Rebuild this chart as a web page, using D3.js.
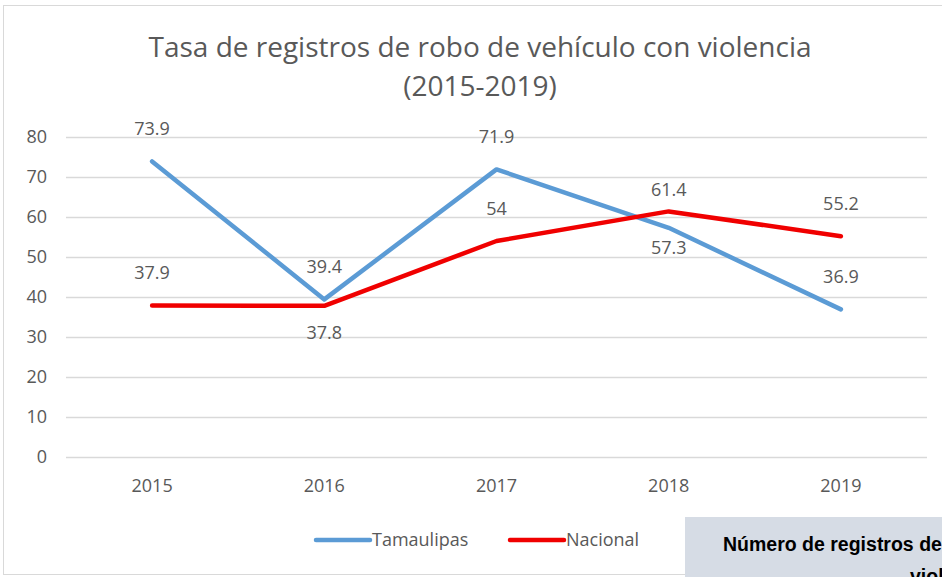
<!DOCTYPE html>
<html>
<head>
<meta charset="utf-8">
<script src="https://cdn.jsdelivr.net/npm/d3@7"></script>
<style>
  html, body { margin: 0; padding: 0; background: #fff; overflow: hidden; }
  svg { display: block; }
</style>
</head>
<body>
<div id="chart"></div>
<script>
// données
const years = ["2015", "2016", "2017", "2018", "2019"];
const tamaulipas = [73.9, 39.4, 71.9, 57.3, 36.9];
const nacional = [37.9, 37.8, 54, 61.4, 55.2];
const yTicks = [0, 10, 20, 30, 40, 50, 60, 70, 80];
// position des étiquettes (au-dessus / en dessous du point, proche ou non)
const tamLabelPos = ["top", "top", "top", "bottomNear", "top"];
const nacLabelPos = ["top", "bottom", "top", "topNear", "top"];

const series = [
  { name: "Tamaulipas", values: tamaulipas, pos: tamLabelPos, color: "#5b9bd5" },
  { name: "Nacional", values: nacional, pos: nacLabelPos, color: "#f00000" },
];

const width = 942, height = 577;
const font = "'Open Sans', 'Noto Sans', sans-serif";
const labelDy = { top: -26, topNear: -15, bottom: 33, bottomNear: 26 };

const svg = d3.select("#chart")
  .append("svg")
  .attr("width", width)
  .attr("height", height);

// cadre du graphique
svg.append("rect")
  .attr("x", 3.5).attr("y", 5.5)
  .attr("width", 960).attr("height", 569)
  .attr("fill", "#fff")
  .attr("stroke", "#d9d9d9");

// titre
const title = svg.append("text")
  .attr("text-anchor", "middle")
  .attr("font-family", font)
  .attr("font-size", 28)
  .attr("fill", "#595959");
title.append("tspan").attr("x", 480).attr("y", 57).text("Tasa de registros de robo de vehículo con violencia");
title.append("tspan").attr("x", 480).attr("y", 96).text("(2015-2019)");

// échelles
const x = d3.scaleBand().domain(years).range([66, 927]);
const y = d3.scaleLinear().domain([0, 80]).range([457, 137]);
const cx = d => x(d) + x.bandwidth() / 2;

// grille + axe Y
const yAxis = svg.append("g")
  .attr("transform", "translate(66,0)")
  .call(d3.axisLeft(y).tickValues(yTicks).tickSize(-(927 - 66)).tickPadding(19));
yAxis.select(".domain").remove();
yAxis.selectAll(".tick line").attr("stroke", "#d9d9d9").attr("stroke-width", 1.5);
yAxis.selectAll(".tick text")
  .attr("font-family", font)
  .attr("font-size", 18)
  .attr("fill", "#595959");

// axe X
const xAxis = svg.append("g")
  .attr("transform", "translate(0,457)")
  .call(d3.axisBottom(x).tickSize(0).tickPadding(22));
xAxis.select(".domain").remove();
xAxis.selectAll(".tick text")
  .attr("font-family", font)
  .attr("font-size", 18)
  .attr("fill", "#595959");

// lignes
const line = d3.line()
  .x((d, i) => cx(years[i]))
  .y(d => y(d));

series.forEach(s => {
  svg.append("path")
    .datum(s.values)
    .attr("d", line)
    .attr("fill", "none")
    .attr("stroke", s.color)
    .attr("stroke-width", 4.5)
    .attr("stroke-linejoin", "round")
    .attr("stroke-linecap", "round");
});

// étiquettes de données
series.forEach(s => {
  svg.append("g")
    .selectAll("text")
    .data(s.values)
    .join("text")
    .attr("x", (d, i) => cx(years[i]))
    .attr("y", (d, i) => y(d) + labelDy[s.pos[i]])
    .attr("text-anchor", "middle")
    .attr("font-family", font)
    .attr("font-size", 18)
    .attr("fill", "#595959")
    .text(d => d);
});

// légende
const legend = svg.append("g").attr("transform", "translate(316,540)");
const legX = [0, 194];
series.forEach((s, i) => {
  const g = legend.append("g").attr("transform", `translate(${legX[i]},0)`);
  g.append("line")
    .attr("x1", 0).attr("x2", 54)
    .attr("stroke", s.color)
    .attr("stroke-width", 4.5)
    .attr("stroke-linecap", "round");
  g.append("text")
    .attr("x", 56).attr("y", 6)
    .attr("font-family", font)
    .attr("font-size", 18)
    .attr("fill", "#595959")
    .text(s.name);
});

// encadré en bas à droite (coupé par le bord de l'image, comme dans l'original)
svg.append("rect")
  .attr("x", 685).attr("y", 517)
  .attr("width", 300).attr("height", 80)
  .attr("fill", "#d6dce5");
const boxText = svg.append("text")
  .attr("font-family", "'Liberation Sans', Arial, sans-serif")
  .attr("font-weight", "bold")
  .attr("font-size", 19.5)
  .attr("fill", "#000");
boxText.append("tspan").attr("x", 723).attr("y", 551).text("Número de registros de robo de vehículo con");
boxText.append("tspan").attr("x", 910).attr("y", 583).text("violencia");
</script>
</body>
</html>
